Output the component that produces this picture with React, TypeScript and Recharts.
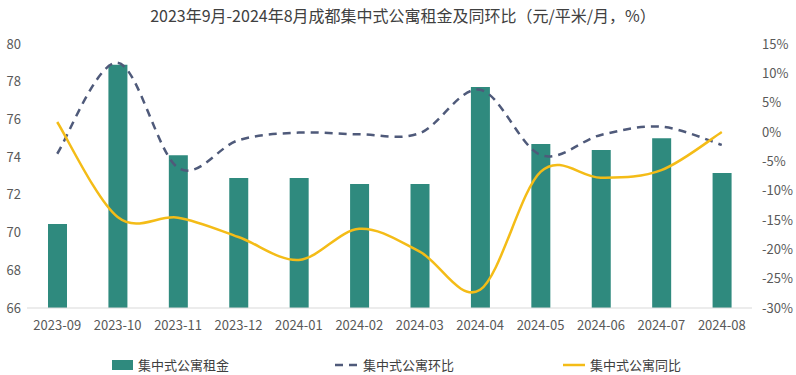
import { Bar, ComposedChart, Line, XAxis, YAxis } from "recharts";

const months = [
  "2023-09", "2023-10", "2023-11", "2023-12", "2024-01", "2024-02",
  "2024-03", "2024-04", "2024-05", "2024-06", "2024-07", "2024-08",
];
const rent = [70.45, 78.9, 74.1, 72.9, 72.9, 72.58, 72.58, 77.72, 74.7, 74.38, 75.0, 73.16];
const mom = [-3.7, 11.8, -6.1, -1.4, -0.1, -0.4, -0.2, 7.2, -3.9, -0.5, 0.9, -2.2];
const yoy = [1.7, -14.5, -14.6, -17.9, -21.8, -16.5, -20.4, -26.9, -6.8, -7.8, -6.5, 0];
const leftTicks = [66, 68, 70, 72, 74, 76, 78, 80];
const rightTicks = [-30, -25, -20, -15, -10, -5, 0, 5, 10, 15];

const data = months.map((m, i) => ({ month: m, rent: rent[i], mom: mom[i], yoy: yoy[i] }));

const FONT = '"Noto Sans CJK SC", "Noto Sans", sans-serif';
const TEAL = "#2F8A7E";
const SLATE = "#4F5A7A";
const GOLD = "#F4BC17";
const tick = { fill: "#595959", fontSize: 13, fontFamily: FONT };

// excel-like smoothed line (catmull-rom as bezier)
const smooth = (context: any) => {
  let pts: number[][] = [];
  return {
    areaStart() {},
    areaEnd() {},
    lineStart() {
      pts = [];
    },
    point(x: number, y: number) {
      pts.push([+x, +y]);
    },
    lineEnd() {
      const n = pts.length;
      if (!n) return;
      context.moveTo(pts[0][0], pts[0][1]);
      for (let i = 0; i < n - 1; i++) {
        const p0 = pts[Math.max(i - 1, 0)];
        const p1 = pts[i];
        const p2 = pts[i + 1];
        const p3 = pts[Math.min(i + 2, n - 1)];
        context.bezierCurveTo(
          p1[0] + (p2[0] - p0[0]) / 6,
          p1[1] + (p2[1] - p0[1]) / 6,
          p2[0] - (p3[0] - p1[0]) / 6,
          p2[1] - (p3[1] - p1[1]) / 6,
          p2[0],
          p2[1]
        );
      }
    },
  };
};

export default function App() {
  return (
    <div
      style={{
        position: "absolute",
        left: 0,
        top: 0,
        width: 796,
        height: 375,
        background: "#fff",
        fontFamily: FONT,
      }}
    >
      <div
        style={{
          position: "absolute",
          left: 5,
          top: 5,
          width: 796,
          textAlign: "center",
          fontSize: 16,
          lineHeight: "20px",
          color: "#404040",
        }}
      >
        2023年9月-2024年8月成都集中式公寓租金及同环比（元/平米/月，%）
      </div>
      <ComposedChart
        width={796}
        height={375}
        data={data}
        margin={{ top: 44, right: 0, left: 0, bottom: 37 }}
      >
        <XAxis
          dataKey="month"
          height={30}
          tick={tick}
          tickLine={false}
          tickSize={0}
          tickMargin={13}
          axisLine={{ stroke: "#D9D9D9" }}
          interval={0}
        />
        <YAxis
          yAxisId="left"
          width={27}
          domain={[66, 80]}
          ticks={leftTicks}
          tick={tick}
          tickLine={false}
          tickSize={0}
          tickMargin={6}
          axisLine={false}
        />
        <YAxis
          yAxisId="right"
          orientation="right"
          width={44}
          domain={[-30, 15]}
          ticks={rightTicks}
          tick={tick}
          tickFormatter={(v: number) => `${v}%`}
          tickLine={false}
          tickSize={0}
          tickMargin={10}
          axisLine={false}
        />
        <Bar yAxisId="left" dataKey="rent" fill={TEAL} barSize={19} isAnimationActive={false} />
        <Line
          yAxisId="right"
          dataKey="mom"
          type={smooth as any}
          stroke={SLATE}
          strokeWidth={2.5}
          strokeDasharray="8 6"
          dot={false}
          isAnimationActive={false}
        />
        <Line
          yAxisId="right"
          dataKey="yoy"
          type={smooth as any}
          stroke={GOLD}
          strokeWidth={2.5}
          dot={false}
          isAnimationActive={false}
        />
      </ComposedChart>
      <div
        style={{
          position: "absolute",
          top: 355,
          left: 0,
          height: 20,
          width: 796,
          fontSize: 13,
          color: "#404040",
          lineHeight: "20px",
        }}
      >
        <div style={{ position: "absolute", left: 112, top: 5, width: 21, height: 10, background: TEAL }} />
        <div style={{ position: "absolute", left: 138, top: 0 }}>集中式公寓租金</div>
        <svg style={{ position: "absolute", left: 335, top: 0 }} width={27} height={20}>
          <line x1={0} y1={10} x2={27} y2={10} stroke={SLATE} strokeWidth={2.5} strokeDasharray="8 6" />
        </svg>
        <div style={{ position: "absolute", left: 363, top: 0 }}>集中式公寓环比</div>
        <svg style={{ position: "absolute", left: 563, top: 0 }} width={22} height={20}>
          <line x1={0} y1={10} x2={22} y2={10} stroke={GOLD} strokeWidth={2.5} />
        </svg>
        <div style={{ position: "absolute", left: 590, top: 0 }}>集中式公寓同比</div>
      </div>
    </div>
  );
}
